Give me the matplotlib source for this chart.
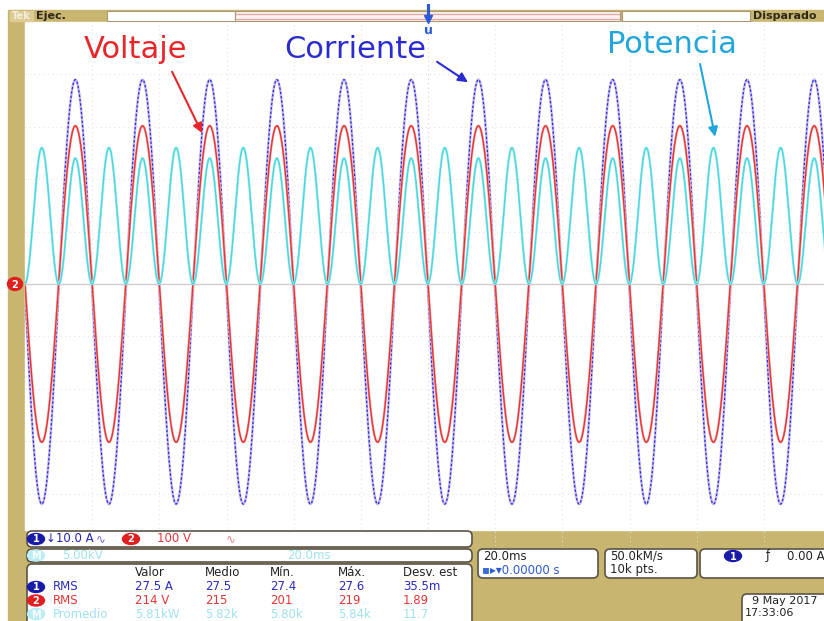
import numpy as np
import matplotlib
matplotlib.use('Agg')
import matplotlib.pyplot as plt
from matplotlib.patches import Rectangle, FancyBboxPatch, Ellipse

W, H, DPI = 824, 621, 100
KHAKI = '#c8b56f'
BLUE = '#2e2ed0'
RED = '#e23636'
CYAN = '#4ad6dc'
FADED = '#9fe3ec'

# acquisition settings
FREQ_HZ = 50.0
T_PEAK_MS = -5.0           # current/voltage crest just before the trigger
MS_PER_DIV = 20.0
H_DIVS = 12
V_DIVS = 10
N_PTS = 10000

# channel 1 - current
I_AMP_A = 40.5
I_OFFSET_A = -1.5
A_PER_DIV = 10.0
# channel 2 - voltage
V_AMP_V = 302.0
V_OFFSET_V = 0.0
V_PER_DIV = 100.0
# math - power
P_PEAK_AT_IMAX_KW = 12.0
P_PEAK_AT_IMIN_KW = 13.0
KW_PER_DIV = 5.0

# measurement table
MEAS_HEADERS = ['Valor', 'Medio', 'Mín.', 'Máx.', 'Desv. est']
MEAS_LABELS = ['RMS', 'RMS', 'Promedio']
MEAS_ICONS = ['1', '2', 'M']
MEAS_ROWS = [['27.5 A', '27.5', '27.4', '27.6', '35.5m'],
             ['214 V', '215', '201', '219', '1.89'],
             ['5.81kW', '5.82k', '5.80k', '5.84k', '11.7']]
MEAS_COLORS = ['#2b2bbd', RED, FADED]

fig = plt.figure(figsize=(W/DPI, H/DPI), dpi=DPI, facecolor='white')

def px_rect(x0, y0, x1, y1):
    return [x0/W, 1 - y1/H, (x1-x0)/W, (y1-y0)/H]

# bezel
bg = fig.add_axes([0, 0, 1, 1], zorder=0)
bg.set_xlim(0, W); bg.set_ylim(H, 0); bg.axis('off')
bg.add_patch(Rectangle((8, 10), W-8, H-10, color=KHAKI))
bg.add_patch(Rectangle((25, 22), W-25, 530-22, color='white'))

# graticule + traces
ax = fig.add_axes(px_rect(25, 22, 831, 546), zorder=1)
ax.set_facecolor('none')
half_t = H_DIVS/2*MS_PER_DIV
ax.set_xlim(-half_t, half_t)
ax.set_ylim(-V_DIVS/2, V_DIVS/2)
for sp in ax.spines.values(): sp.set_visible(False)
ax.set_xticks([]); ax.set_yticks([])

for k in range(-H_DIVS//2+1, H_DIVS//2):
    ax.axvline(k*MS_PER_DIV, color='#e8e2e8' if k else '#d4ccd4',
               lw=0.8, ls=(0, (1, 3)), zorder=0)
for k in range(-V_DIVS//2+1, V_DIVS//2):
    ax.axhline(k, color='#e8e2e8' if k else '#d2cacd',
               lw=0.8 if k else 1.0, ls=(0, (1, 3)) if k else '-', zorder=0)

t = np.linspace(-half_t, half_t, N_PTS)
s = np.cos(2*np.pi*FREQ_HZ*(t - T_PEAK_MS)/1000.0)
cur = I_AMP_A*s + I_OFFSET_A
volt = V_AMP_V*s + V_OFFSET_V
p_mid = (P_PEAK_AT_IMAX_KW + P_PEAK_AT_IMIN_KW)/2
p_asym = (P_PEAK_AT_IMAX_KW - P_PEAK_AT_IMIN_KW)/2
power = p_mid*s**2 + p_asym*s

ax.plot(t, cur/A_PER_DIV, color='#c9bdf2', lw=1.8, zorder=2)
ax.plot(t, cur/A_PER_DIV, color=BLUE, lw=0.9, ls=(0, (2, 1.5)), zorder=3)
ax.plot(t, volt/V_PER_DIV, color='#f4b4b4', lw=1.8, zorder=4)
ax.plot(t, volt/V_PER_DIV, color=RED, lw=1.0, zorder=5)
ax.plot(t, power/KW_PER_DIV, color='#aef0f2', lw=1.8, zorder=6)
ax.plot(t, power/KW_PER_DIV, color=CYAN, lw=1.0, zorder=7)

# labels with arrows (text pos, arrow tail, arrow head) in ms / div
labels = ['Voltaje', 'Corriente', 'Potencia']
label_colors = ['#e8262a', '#2b2bd0', '#22a6dc']
label_pos = [(-87.1, 4.31), (-21.7, 4.31), (72.7, 4.41)]
arrow_tail = [(-76.2, 4.05), (2.7, 4.24), (81.0, 4.20)]
arrow_head = [(-67.3, 2.88), (11.9, 3.85), (85.5, 2.81)]
for lab, c, p, a, b in zip(labels, label_colors, label_pos, arrow_tail, arrow_head):
    ax.text(p[0], p[1], lab, color=c, fontsize=22, ha='center', va='baseline', zorder=10)
    ax.annotate('', xy=b, xytext=a, zorder=10,
                arrowprops=dict(arrowstyle='-|>', color=c, lw=1.5,
                                mutation_scale=14, shrinkA=0, shrinkB=0))

# overlay: status bar and readouts in pixel coords
ov = fig.add_axes([0, 0, 1, 1], zorder=2)
ov.set_facecolor('none')
ov.set_xlim(0, W); ov.set_ylim(H, 0); ov.axis('off')

def box(x0, y0, x1, y1, r=5, fc='white', ec='#5a5448', lw=1.2):
    ov.add_patch(FancyBboxPatch((x0, y0), x1-x0, y1-y0,
                                boxstyle=f'round,pad=0,rounding_size={r}',
                                fc=fc, ec=ec, lw=lw))

def icon(x, y, txt, fc, w=17, h=11):
    ov.add_patch(Ellipse((x, y), w, h, color=fc))
    ov.text(x, y+0.5, txt, color='white', fontsize=7, fontweight='bold',
            ha='center', va='center')

fs = 8.5
# status bar
ov.add_patch(Rectangle((10, 11), 23, 10, color='#dccb95'))
ov.text(21, 16, 'Tek', color='#f4eedc', fontsize=7, fontweight='bold', ha='center', va='center')
ov.text(36, 16, 'Ejec.', color='#2e2818', fontsize=8, fontweight='bold', va='center')
ov.add_patch(Rectangle((107, 11), 128, 10, fc='white', ec='#a89a70', lw=0.8))
ov.add_patch(Rectangle((235, 11), 385, 10, fc='#fdf4f2', ec='#a89a70', lw=0.8))
for yy in (13.5, 18.5):
    ov.plot([236, 619], [yy, yy], color='#e2a8a8', lw=1.0)
ov.add_patch(Rectangle((622, 11), 128, 10, fc='white', ec='#a89a70', lw=0.8))
ov.text(753, 16, 'Disparado', color='#2e2818', fontsize=8, fontweight='bold', va='center')

# trigger position marker
ov.plot([428, 428], [5, 17], color='#2a5ad8', lw=2.2)
ov.plot(428, 19, marker='v', color='#2a5ad8', ms=6)
ov.text(428, 30, 'u', color='#2a5ad8', fontsize=9, fontweight='bold', ha='center', va='center')

# channel 2 ground marker
ov.add_patch(Ellipse((15, 284), 15, 13, color='#e02020'))
ov.text(15, 284.5, '2', color='white', fontsize=7, fontweight='bold', ha='center', va='center')

# bottom readouts
box(27, 531, 472, 547)
icon(36, 539, '1', '#1a1aa8')
ov.text(46, 539, '↓10.0 A', color='#2323b0', fontsize=fs, va='center')
ov.text(96, 539, '∿', color='#6a6ad0', fontsize=fs, va='center')
icon(131, 539, '2', '#e02020')
ov.text(157, 539, '100 V', color=RED, fontsize=fs, va='center')
ov.text(226, 539, '∿', color='#e88080', fontsize=fs, va='center')

box(27, 549, 472, 562)
icon(36, 555.5, 'M', '#b8eef4')
ov.text(62, 555.5, '5.00kV', color=FADED, fontsize=fs, va='center')
ov.text(287, 555.5, '20.0ms', color=FADED, fontsize=fs, va='center')

box(27, 564, 472, 640)
col_x = [135, 205, 270, 338, 403]
for x, h in zip(col_x, MEAS_HEADERS):
    ov.text(x, 573, h, color='#222222', fontsize=fs, va='center')
for i, (lab, ic, row, c) in enumerate(zip(MEAS_LABELS, MEAS_ICONS, MEAS_ROWS, MEAS_COLORS)):
    y = 587 + i*13.5
    icon(36, y, ic, ['#1a1aa8', '#e02020', '#b8eef4'][i])
    ov.text(53, y, lab, color=c, fontsize=fs, va='center')
    for x, v in zip(col_x, row):
        ov.text(x, y, v, color=c, fontsize=fs, va='center')

box(478, 549, 598, 578)
ov.text(483, 556, '20.0ms', color='#222222', fontsize=fs, va='center')
ov.text(482, 570, '▪', color='#3a6ad8', fontsize=fs, va='center')
ov.text(490, 570, '▸▾0.00000 s', color='#2d5ad0', fontsize=fs, va='center')

box(605, 549, 697, 578)
ov.text(610, 556, '50.0kM/s', color='#222222', fontsize=fs, va='center')
ov.text(610, 570, '10k pts.', color='#222222', fontsize=fs, va='center')

box(700, 549, 840, 578)
icon(733, 556, '1', '#1a1aa8')
ov.text(766, 556, 'ƒ', color='#222222', fontsize=fs, va='center')
ov.text(787, 556, '0.00 A', color='#222222', fontsize=fs, va='center')

box(742, 594, 840, 640)
ov.text(752, 601, '9 May 2017', color='#222222', fontsize=8, va='center')
ov.text(745, 613.5, '17:33:06', color='#222222', fontsize=8, va='center')

fig.savefig('out.png', dpi=DPI, facecolor='white')
